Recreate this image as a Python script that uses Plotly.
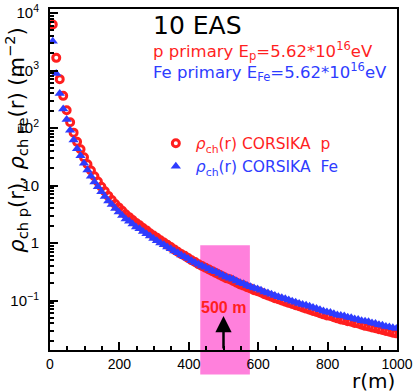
import plotly.graph_objects as go

# ─────────────────────────────────
# Datos
# ─────────────────────────────────
R_M = list(range(8, 1000, 10))  # centros de los bins en r (m)

RHO_P = [
    6310, 1660, 708, 363, 204, 126, 83.2, 57.5, 42.7, 30.9,
    23.4, 18.2, 14.5, 11.7, 9.55, 7.94, 6.61, 5.62, 4.79, 4.17,
    3.63, 3.16, 2.82, 2.51, 2.24, 2.04, 1.82, 1.66, 1.48, 1.35,
    1.23, 1.12, 1.02, 0.933, 0.851, 0.776, 0.708, 0.646, 0.603, 0.550,
    0.501, 0.468, 0.427, 0.398, 0.372, 0.347, 0.324, 0.302, 0.282, 0.263,
    0.245, 0.234, 0.219, 0.204, 0.191, 0.182, 0.170, 0.162, 0.151, 0.145,
    0.138, 0.129, 0.123, 0.117, 0.110, 0.105, 0.100, 0.0955, 0.0912, 0.0871,
    0.0832, 0.0794, 0.0759, 0.0724, 0.0692, 0.0661, 0.0631, 0.0603, 0.0575, 0.0550,
    0.0537, 0.0513, 0.0490, 0.0468, 0.0457, 0.0437, 0.0427, 0.0407, 0.0398, 0.0380,
    0.0363, 0.0355, 0.0339, 0.0331, 0.0316, 0.0309, 0.0295, 0.0288, 0.0275, 0.0269,
]

RHO_FE = [
    3240, 891, 398, 214, 141, 91.2, 61.7, 43.7, 33.1, 24.5,
    18.6, 14.5, 11.5, 9.55, 7.76, 6.46, 5.37, 4.68, 3.98, 3.47,
    3.02, 2.63, 2.40, 2.14, 1.91, 1.78, 1.58, 1.45, 1.32, 1.20,
    1.10, 1.00, 0.933, 0.851, 0.794, 0.724, 0.676, 0.617, 0.575, 0.537,
    0.490, 0.457, 0.427, 0.398, 0.380, 0.355, 0.331, 0.316, 0.295, 0.275,
    0.257, 0.245, 0.234, 0.219, 0.204, 0.195, 0.182, 0.174, 0.166, 0.158,
    0.151, 0.141, 0.135, 0.129, 0.123, 0.117, 0.112, 0.107, 0.102, 0.0977,
    0.0933, 0.0891, 0.0851, 0.0832, 0.0794, 0.0759, 0.0724, 0.0692, 0.0661, 0.0631,
    0.0617, 0.0589, 0.0562, 0.0550, 0.0537, 0.0513, 0.0501, 0.0479, 0.0468, 0.0447,
    0.0437, 0.0427, 0.0407, 0.0398, 0.0380, 0.0372, 0.0355, 0.0347, 0.0335, 0.0327,
]

Y_TICKVALS = [0.1, 1, 10, 100, 1000, 10000]
Y_TICKTEXT = ["10<sup>−1</sup>", "1", "10", "10<sup>2</sup>", "10<sup>3</sup>", "10<sup>4</sup>"]
X_TICKVALS = [0, 200, 400, 600, 800, 1000]

R_MARK = 500            # radio señalado con la flecha
R_BAND = (433, 576)     # franja rosa alrededor de 500 m

RED = "#ff1f1f"
BLUE = "#2e3cff"
PINK = "#ff80dc"
TXT_FONT = "DejaVu Sans"
TICK_FONT = "Liberation Sans"

# ─────────────────────────────────
# Figura
# ─────────────────────────────────
fig = go.Figure()

fig.add_trace(go.Scatter(
    x=R_M, y=RHO_P, mode="markers",
    name=f"<span style='color:{RED}'><i>ρ</i><sub>ch</sub>(r) CORSIKA \u00a0p</span>",
    marker=dict(symbol="circle-open", size=7, color=RED, line=dict(width=3, color=RED)),
))
fig.add_trace(go.Scatter(
    x=R_M, y=RHO_FE, mode="markers",
    name=f"<span style='color:{BLUE}'><i>ρ</i><sub>ch</sub>(r) CORSIKA \u00a0Fe</span>",
    marker=dict(symbol="triangle-up", size=9, color=BLUE, line=dict(width=0)),
))

# franja rosa (sobresale por debajo del eje)
fig.add_shape(
    type="rect", xref="paper", yref="paper",
    x0=R_BAND[0] / 1000, x1=R_BAND[1] / 1000, y0=-0.072, y1=0.307,
    fillcolor=PINK, line=dict(width=0), layer="below",
)

annotations = [
    dict(x=0.29, y=0.952, xref="paper", yref="paper", xanchor="left", yanchor="middle",
         text="10 EAS", font=dict(family=TXT_FONT, size=25, color="black"), showarrow=False),
    dict(x=0.29, y=0.876, xref="paper", yref="paper", xanchor="left", yanchor="middle",
         text="p primary E<sub>p</sub>=5.62*10<sup>16</sup>eV",
         font=dict(family=TXT_FONT, size=16.5, color=RED), showarrow=False),
    dict(x=0.29, y=0.814, xref="paper", yref="paper", xanchor="left", yanchor="middle",
         text="Fe primary E<sub>Fe</sub>=5.62*10<sup>16</sup>eV",
         font=dict(family=TXT_FONT, size=16.5, color=BLUE), showarrow=False),
    # flecha de 500 m
    dict(x=R_MARK, y=0.10, xref="x", yref="paper", ax=0, ay=34, text="",
         showarrow=True, arrowhead=2, arrowsize=1.3, arrowwidth=2.5, arrowcolor="black"),
    dict(x=R_MARK, y=0.124, xref="x", yref="paper", xanchor="center", yanchor="middle",
         text="<b>500 m</b>", font=dict(family=TICK_FONT, size=16, color=RED), showarrow=False),
    # títulos de ejes
    dict(x=1.0, y=-0.09, xref="paper", yref="paper", xanchor="right", yanchor="middle",
         text="r(m)", font=dict(family=TXT_FONT, size=20, color="black"), showarrow=False),
    dict(x=-0.097, y=0.615, xref="paper", yref="paper", xanchor="center", yanchor="middle",
         textangle=-90,
         text="<i>ρ</i><sub>ch p</sub>(r), <i>ρ</i><sub>ch Fe</sub>(r) (m<sup>−2</sup>)",
         font=dict(family=TXT_FONT, size=21, color="black"), showarrow=False),
]

fig.update_layout(
    width=415, height=392,
    margin=dict(l=50, r=15, t=2, b=42),
    paper_bgcolor="white", plot_bgcolor="white",
    showlegend=True,
    legend=dict(
        x=0.305, y=0.655, xanchor="left", yanchor="top",
        bgcolor="rgba(0,0,0,0)", borderwidth=0, itemwidth=30,
        font=dict(family=TXT_FONT, size=15.5), tracegroupgap=0,
    ),
    annotations=annotations,
)

fig.update_xaxes(
    range=[0, 1000], showgrid=False, zeroline=False,
    showline=True, linewidth=2, linecolor="black", mirror=True,
    tickvals=X_TICKVALS, ticks="inside", ticklen=8, tickwidth=1.5, tickcolor="black",
    minor=dict(dtick=50, ticks="inside", ticklen=4, tickwidth=1.5, tickcolor="black", showgrid=False),
    tickfont=dict(family=TICK_FONT, size=14, color="black"),
    ticklabeloverflow="allow",
)
fig.update_yaxes(
    type="log", range=[-1.86, 4.07], showgrid=False, zeroline=False,
    showline=True, linewidth=2, linecolor="black", mirror=True,
    tickvals=Y_TICKVALS, ticktext=Y_TICKTEXT,
    ticks="inside", ticklen=8, tickwidth=1.5, tickcolor="black",
    minor=dict(dtick="D1", ticks="inside", ticklen=4, tickwidth=1.5, tickcolor="black", showgrid=False),
    tickfont=dict(family=TICK_FONT, size=15, color="black"),
    ticklabelstandoff=6, ticklabeloverflow="allow",
)

# sin margen del <body> para que la figura ocupe exactamente la ventana
fig.write_html(
    "out.html",
    config={"displayModeBar": False},
    post_script="document.body.style.margin='0';",
)
